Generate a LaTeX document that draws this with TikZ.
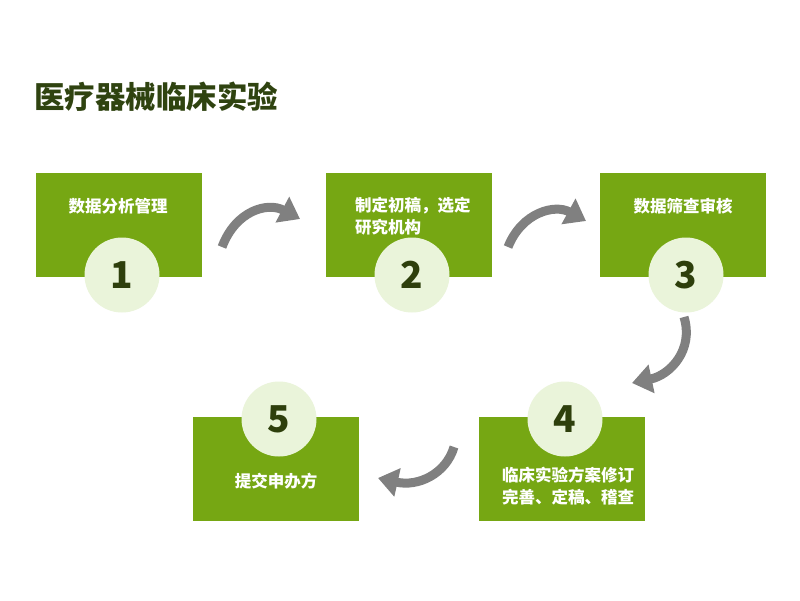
\documentclass[tikz,border=0pt]{standalone}
\usepackage{fontspec}
\setmainfont{Noto Sans CJK SC}
\usetikzlibrary{arrows.meta}
\definecolor{boxgreen}{HTML}{76A713}
\definecolor{circfill}{HTML}{EAF4DA}
\definecolor{numcol}{HTML}{2E3F0C}
\definecolor{titlecol}{HTML}{2F4310}
\definecolor{arrgray}{HTML}{808080}
\tikzset{
  stepbox/.style={fill=boxgreen, draw=none, minimum width=166pt, minimum height=104pt, inner sep=0pt},
  numcirc/.style={circle, fill=circfill, draw=none, minimum size=75pt, inner sep=0pt, text=numcol, font=\fontsize{37}{40}\selectfont\bfseries},
  boxtext/.style={text=white, font=\fontsize{16.5}{22}\selectfont\bfseries, inner sep=0pt},
  curvarrow/.style={draw=arrgray, line width=9pt, -{Triangle[width=28pt,length=20pt]}},
}
\begin{document}
\begin{tikzpicture}[x=1pt,y=-1pt]
\useasboundingbox (0,0) rectangle (800,600);
\fill[white] (0,0) rectangle (800,600);
% title
\node[anchor=west, text=titlecol, font=\fontsize{30.5}{34}\selectfont\bfseries, inner sep=0pt] (title) at (34,97) {医疗器械临床实验};
% boxes
\node[stepbox] (b1) at (119,225) {};
\node[stepbox] (b2) at (409,225) {};
\node[stepbox] (b3) at (683,225) {};
\node[stepbox] (b4) at (562,469) {};
\node[stepbox] (b5) at (276,469) {};
% texts
\node[boxtext] (t1) at (118,206) {数据分析管理};
\node[boxtext, anchor=west, align=left] (t2) at (355,216) {制定初稿，选定\\研究机构};
\node[boxtext] (t3) at (683,206) {数据筛查审核};
\node[boxtext, anchor=west, align=left] (t4) at (502,486) {临床实验方案修订\\完善、定稿、稽查};
\node[boxtext] (t5) at (276,481) {提交申办方};
% circles
\node[numcirc] (c1) at (122,275) {1};
\node[numcirc] (c2) at (412,275) {2};
\node[numcirc] (c3) at (686,275) {3};
\node[numcirc] (c4) at (565,419) {4};
\node[numcirc] (c5) at (279,419) {5};
% arrows
\coordinate (a1s) at (222,247); \coordinate (a1e) at (300,219);
\coordinate (a2s) at (508,247); \coordinate (a2e) at (586,221);
\coordinate (a3s) at (684,317); \coordinate (a3e) at (632,383);
\coordinate (a4s) at (454,447); \coordinate (a4e) at (378,478);
\draw[curvarrow] (a1s) .. controls (236,210) and (268,202) .. (a1e);
\draw[curvarrow] (a2s) .. controls (522,212) and (555,204) .. (a2e);
\draw[curvarrow] (a3s) .. controls (694,350) and (670,375) .. (a3e);
\draw[curvarrow] (a4s) .. controls (446,474) and (418,487) .. (a4e);
\end{tikzpicture}
\end{document}
